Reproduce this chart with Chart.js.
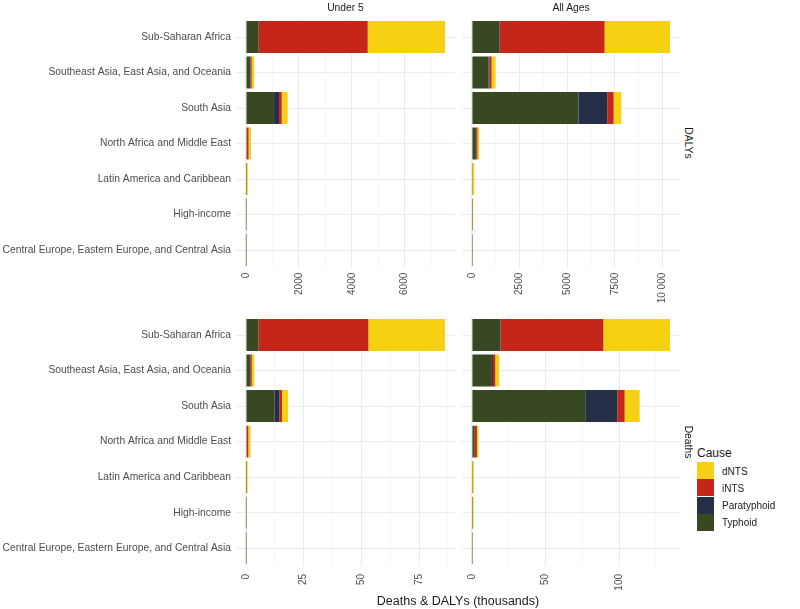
<!DOCTYPE html>
<html>
<head>
<meta charset="utf-8">
<script src="https://cdn.jsdelivr.net/npm/chart.js@4.4.1/dist/chart.umd.min.js"></script>
<style>
  body { margin: 0; background: #fff; font-family: 'Liberation Sans', Arial, sans-serif; }
  #wrap { position: relative; width: 800px; height: 609px; overflow: hidden; }
  canvas { position: absolute; }
  .t { position: absolute; white-space: nowrap; color: #1a1a1a; transform: translate(-50%, -50%); }
  .sw { position: absolute; width: 17px; height: 17px; }
  .lb { position: absolute; font-size: 10px; color: #1a1a1a; transform: translateY(-50%); }
</style>
</head>
<body>
<div id="wrap">
  <canvas id="dalysU5" width="456" height="312" style="left:0;top:0"></canvas>
  <canvas id="dalysAll" width="226" height="312" style="left:456px;top:0"></canvas>
  <canvas id="deathsU5" width="456" height="311" style="left:0;top:298px"></canvas>
  <canvas id="deathsAll" width="226" height="311" style="left:456px;top:298px"></canvas>

  <div class="t" style="left:345.5px;top:7px;font-size:10.3px">Under 5</div>
  <div class="t" style="left:571px;top:7px;font-size:10.3px">All Ages</div>
  <div class="t" style="left:688px;top:143px;font-size:10.3px;transform:translate(-50%,-50%) rotate(90deg)">DALYs</div>
  <div class="t" style="left:688px;top:442px;font-size:10.3px;transform:translate(-50%,-50%) rotate(90deg)">Deaths</div>
  <div class="t" style="left:458px;top:601px;font-size:12.5px">Deaths &amp; DALYs (thousands)</div>

  <div id="legend"></div>
</div>
<script>
// regions, top to bottom
const regions = [
  'Sub-Saharan Africa',
  'Southeast Asia, East Asia, and Oceania',
  'South Asia',
  'North Africa and Middle East',
  'Latin America and Caribbean',
  'High-income',
  'Central Europe, Eastern Europe, and Central Asia'
];
// stacking order left to right
const causes = ['Typhoid', 'Paratyphoid', 'iNTS', 'dNTS'];
const colors = ['#374823', '#262F48', '#C6251A', '#F6D113'];
const legendOrder = ['dNTS', 'iNTS', 'Paratyphoid', 'Typhoid'];

// DALYs, under 5 (thousands)
const dalysU5Typhoid = [467, 150, 1063, 30, 5, 1, 1];
const dalysU5Paratyphoid = [20, 25, 189, 8, 2, 1, 1];
const dalysU5iNTS = [4116, 40, 99, 60, 5, 1, 1];
const dalysU5dNTS = [2923, 100, 228, 92, 58, 10, 7];

// DALYs, all ages (thousands)
const dalysAllTyphoid = [1437, 874, 5595, 210, 20, 5, 5];
const dalysAllParatyphoid = [30, 52, 1510, 20, 5, 3, 2];
const dalysAlliNTS = [5496, 106, 332, 65, 10, 3, 3];
const dalysAlldNTS = [3437, 210, 405, 89, 90, 35, 15];

// Deaths, under 5 (thousands)
const deathsU5Typhoid = [5.35, 1.74, 12.3, 0.3, 0.05, 0.01, 0.01];
const deathsU5Paratyphoid = [0.2, 0.2, 2.2, 0.1, 0.02, 0.01, 0.01];
const deathsU5iNTS = [47.5, 0.6, 1.1, 0.6, 0.05, 0.01, 0.01];
const deathsU5dNTS = [33.2, 1.1, 2.7, 1.0, 0.6, 0.1, 0.05];

// Deaths, all ages (thousands)
const deathsAllTyphoid = [19.3, 13.6, 77.0, 1.8, 0.2, 0.1, 0.05];
const deathsAllParatyphoid = [0.3, 0.7, 21.9, 0.3, 0.05, 0.03, 0.03];
const deathsAlliNTS = [69.7, 1.6, 4.9, 1.3, 0.1, 0.05, 0.03];
const deathsAlldNTS = [45.4, 2.7, 10.2, 1.1, 1.0, 0.9, 0.2];

// x tick values and labels per panel
const dalysU5Ticks = [0, 2000, 4000, 6000];
const dalysU5TickLabels = ['0', '2000', '4000', '6000'];
const dalysAllTicks = [0, 2500, 5000, 7500, 10000];
const dalysAllTickLabels = ['0', '2500', '5000', '7500', '10 000'];
const deathsU5Ticks = [0, 25, 50, 75];
const deathsU5TickLabels = ['0', '25', '50', '75'];
const deathsAllTicks = [0, 50, 100];
const deathsAllTickLabels = ['0', '50', '100'];

const fam = "'Liberation Sans', Arial, sans-serif";

function panel(id, series, ticks, tickLabels, opt) {
  const totals = regions.map((_, i) => series.reduce((s, arr) => s + arr[i], 0));
  const top = Math.max(...totals);
  const step = (ticks[1] - ticks[0]) / 2;
  const gridVals = [];
  for (let v = 0; v <= top * 1.05; v += step) gridVals.push(v);

  return new Chart(document.getElementById(id), {
    type: 'bar',
    data: {
      labels: regions,
      datasets: causes.map((c, k) => ({
        label: c,
        data: series[k],
        backgroundColor: colors[k],
        borderWidth: 0,
        categoryPercentage: 0.9,
        barPercentage: 1
      }))
    },
    options: {
      indexAxis: 'y',
      responsive: false,
      animation: false,
      layout: { padding: { top: 19.25, right: opt.padRight, left: 0, bottom: 0 } },
      plugins: { legend: { display: false }, tooltip: { enabled: false } },
      scales: {
        x: {
          stacked: true,
          bounds: 'data',
          min: -0.05 * top,
          max: 1.05 * top,
          afterBuildTicks: s => { s.ticks = gridVals.map(v => ({ value: v })); },
          afterFit: s => { s.height = opt.xh; s.paddingLeft = 0; s.paddingRight = 0; },
          border: { display: false },
          grid: {
            drawTicks: false,
            color: ctx => ticks.includes(ctx.tick.value) ? '#EBEBEB' : '#F4F4F4',
            lineWidth: ctx => ticks.includes(ctx.tick.value) ? 1 : 0.7
          },
          ticks: {
            autoSkip: false,
            minRotation: 90,
            maxRotation: 90,
            padding: opt.tickPad,
            color: '#4D4D4D',
            font: { family: fam, size: 10 },
            callback: v => {
              const i = ticks.indexOf(v);
              return i < 0 ? '' : tickLabels[i];
            }
          }
        },
        y: {
          stacked: true,
          afterFit: s => { s.width = opt.yw; },
          border: { display: false },
          grid: { offset: false, drawTicks: false, color: '#EBEBEB' },
          ticks: { display: opt.showY, padding: 5, color: '#4D4D4D', font: { family: fam, size: 10.3 } }
        }
      }
    }
  });
}

panel('dalysU5', [dalysU5Typhoid, dalysU5Paratyphoid, dalysU5iNTS, dalysU5dNTS],
  dalysU5Ticks, dalysU5TickLabels, { showY: true, yw: 236, padRight: 1, xh: 44.25, tickPad: 5 });
panel('dalysAll', [dalysAllTyphoid, dalysAllParatyphoid, dalysAlliNTS, dalysAlldNTS],
  dalysAllTicks, dalysAllTickLabels, { showY: false, yw: 6, padRight: 2, xh: 44.25, tickPad: 5 });
panel('deathsU5', [deathsU5Typhoid, deathsU5Paratyphoid, deathsU5iNTS, deathsU5dNTS],
  deathsU5Ticks, deathsU5TickLabels, { showY: true, yw: 236, padRight: 1, xh: 43, tickPad: 8 });
panel('deathsAll', [deathsAllTyphoid, deathsAllParatyphoid, deathsAlliNTS, deathsAlldNTS],
  deathsAllTicks, deathsAllTickLabels, { showY: false, yw: 6, padRight: 2, xh: 43, tickPad: 8 });

// legend
const legend = document.getElementById('legend');
let html = '<div style="position:absolute;left:697px;top:446px;font-size:12px;color:#1a1a1a">Cause</div>';
legendOrder.forEach((name, i) => {
  const y = 462 + i * 17.3;
  html += '<div class="sw" style="left:697px;top:' + y + 'px;background:' + colors[causes.indexOf(name)] + '"></div>';
  html += '<div class="lb" style="left:722px;top:' + (y + 8.5) + 'px">' + name + '</div>';
});
legend.innerHTML = html;
</script>
</body>
</html>
